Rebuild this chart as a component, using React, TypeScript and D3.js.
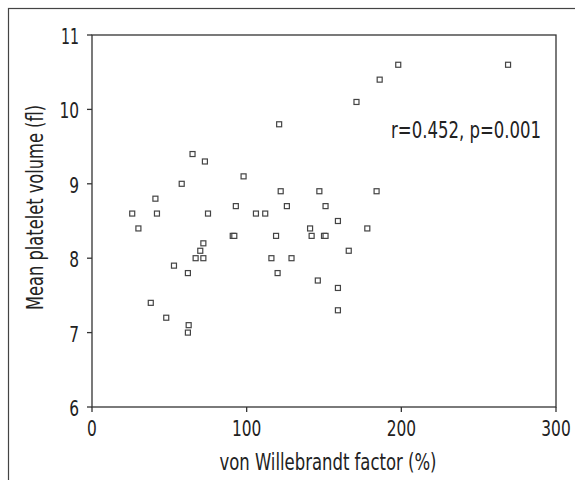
import React from "react";
import * as d3 from "d3";

const vwf: number[] = [26, 30, 38, 41, 42, 48, 53, 58, 62, 62, 62.5, 65, 67, 70, 72, 72, 73, 75, 91, 92, 93, 98, 106, 112, 116, 119, 120, 121, 122, 126, 129, 141, 142, 146, 147, 150, 151, 151, 159, 159, 159, 166, 171, 178, 184, 186, 198, 269];
const mpv: number[] = [8.6, 8.4, 7.4, 8.8, 8.6, 7.2, 7.9, 9.0, 7.8, 7.0, 7.1, 9.4, 8.0, 8.1, 8.2, 8.0, 9.3, 8.6, 8.3, 8.3, 8.7, 9.1, 8.6, 8.6, 8.0, 8.3, 7.8, 9.8, 8.9, 8.7, 8.0, 8.4, 8.3, 7.7, 8.9, 8.3, 8.3, 8.7, 8.5, 7.6, 7.3, 8.1, 10.1, 8.4, 8.9, 10.4, 10.6, 10.6];
const xTicks: number[] = [0, 100, 200, 300];
const yTicks: number[] = [6, 7, 8, 9, 10, 11];
const xTitle = "von Willebrandt factor (%)";
const yTitle = "Mean platelet volume (fl)";
const annotation = "r=0.452, p=0.001";

const FONT = "'DejaVu Sans Condensed', 'DejaVu Sans', sans-serif";

export default function App() {
  const left = 92, right = 556, top = 35, bottom = 407;
  const x = d3.scaleLinear().domain([0, 300]).range([left, right]);
  const y = d3.scaleLinear().domain([6, 11]).range([bottom, top]);
  const axisColor = "#333";
  const sz = 5;
  const numLen = (t: number) => {
    const s = String(t);
    return s === "11" ? 18 : s.length * 9.8;
  };
  return (
    <div style={{ position: "absolute", left: 0, top: 0 }}>
      <svg width={575} height={480} style={{ display: "block" }}>
        <rect x={0} y={0} width={575} height={480} fill="#fff" />
        <rect x={8.5} y={8.5} width={620} height={520} fill="none" stroke="#444" strokeWidth={1.2} />
        <rect x={left} y={top} width={right - left} height={bottom - top} fill="none" stroke={axisColor} strokeWidth={1.3} />
        {yTicks.map((t) => (
          <g key={"y" + t}>
            <line x1={left - 5} x2={left} y1={y(t)} y2={y(t)} stroke={axisColor} strokeWidth={1.3} />
            <text x={79} y={y(t) + 9} textAnchor="end" fontFamily={FONT} fontSize={21.5} fill="#222" textLength={numLen(t)} lengthAdjust="spacingAndGlyphs">{t}</text>
          </g>
        ))}
        {xTicks.map((t) => (
          <g key={"x" + t}>
            <line x1={x(t)} x2={x(t)} y1={bottom} y2={bottom + 5} stroke={axisColor} strokeWidth={1.3} />
            <text x={x(t)} y={bottom + 29} textAnchor="middle" fontFamily={FONT} fontSize={21.5} fill="#222" textLength={numLen(t)} lengthAdjust="spacingAndGlyphs">{t}</text>
          </g>
        ))}
        <text x={328} y={470} textAnchor="middle" fontFamily={FONT} fontSize={23} fill="#222" textLength={217} lengthAdjust="spacingAndGlyphs">{xTitle}</text>
        <text transform={`translate(43,${207.5}) rotate(-90)`} textAnchor="middle" fontFamily={FONT} fontSize={23} fill="#222" textLength={205} lengthAdjust="spacingAndGlyphs">{yTitle}</text>
        <text x={391} y={138} fontFamily={FONT} fontSize={23} fill="#222" textLength={150} lengthAdjust="spacingAndGlyphs">{annotation}</text>
        {vwf.map((v, i) => (
          <rect key={i} x={x(v) - sz / 2} y={y(mpv[i]) - sz / 2} width={sz} height={sz} fill="#fff" stroke="#444" strokeWidth={1.2} />
        ))}
      </svg>
    </div>
  );
}
